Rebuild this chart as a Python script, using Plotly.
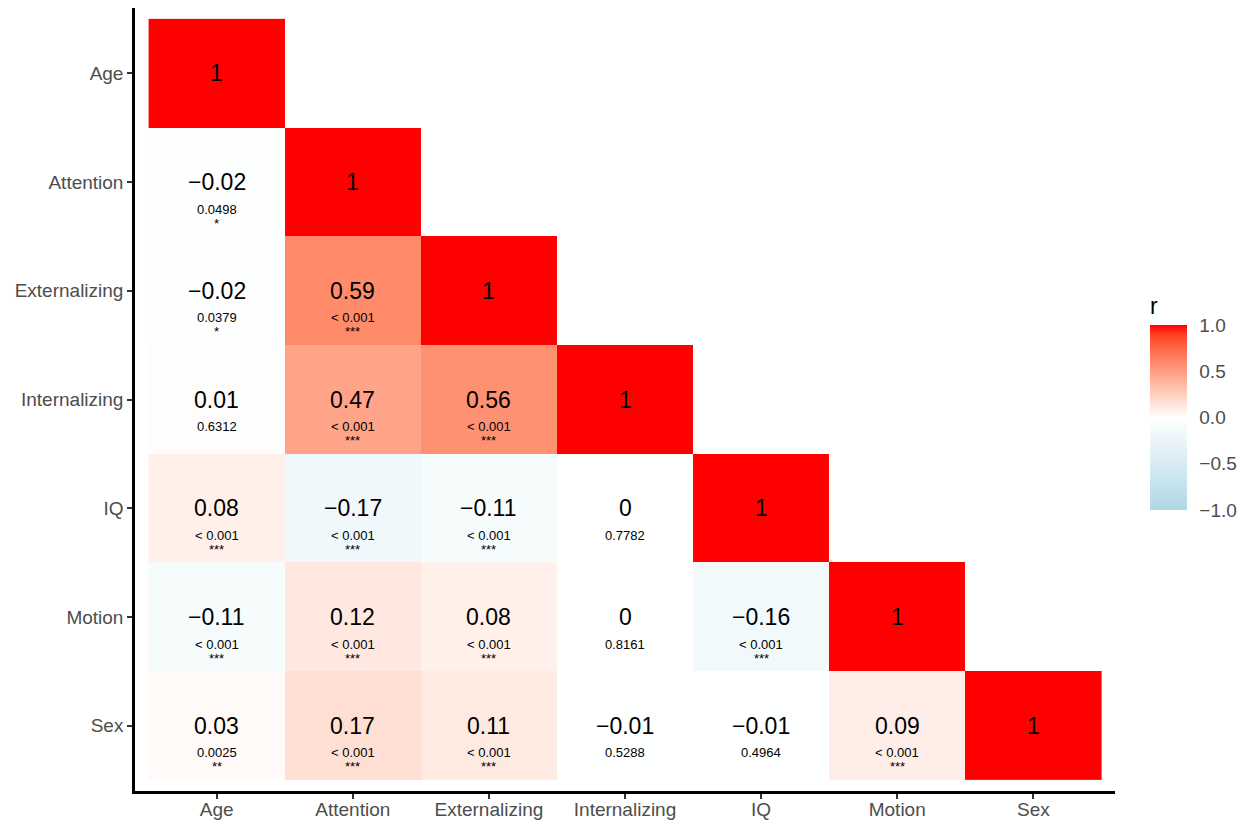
import plotly.graph_objects as go
import numpy as np

variables = ["Age", "Attention", "Externalizing", "Internalizing", "IQ", "Motion", "Sex"]

# lower-triangle correlations (row i, columns 0..i)
r_age = [1]
r_attention = [-0.02, 1]
r_externalizing = [-0.02, 0.59, 1]
r_internalizing = [0.01, 0.47, 0.56, 1]
r_iq = [0.08, -0.17, -0.11, 0, 1]
r_motion = [-0.11, 0.12, 0.08, 0, -0.16, 1]
r_sex = [0.03, 0.17, 0.11, -0.01, -0.01, 0.09, 1]

p_age = [""]
p_attention = ["0.0498", ""]
p_externalizing = ["0.0379", "< 0.001", ""]
p_internalizing = ["0.6312", "< 0.001", "< 0.001", ""]
p_iq = ["< 0.001", "< 0.001", "< 0.001", "0.7782", ""]
p_motion = ["< 0.001", "< 0.001", "< 0.001", "0.8161", "< 0.001", ""]
p_sex = ["0.0025", "< 0.001", "< 0.001", "0.5288", "0.4964", "< 0.001", ""]

s_age = [""]
s_attention = ["*", ""]
s_externalizing = ["*", "***", ""]
s_internalizing = ["", "***", "***", ""]
s_iq = ["***", "***", "***", "", ""]
s_motion = ["***", "***", "***", "", "***", ""]
s_sex = ["**", "***", "***", "", "", "***", ""]

cbar_vals = [-1, -0.5, 0, 0.5, 1]
cbar_text = ["\u22121.0", "\u22120.5", "0.0", "0.5", "1.0"]

R = [r_age, r_attention, r_externalizing, r_internalizing, r_iq, r_motion, r_sex]
P = [p_age, p_attention, p_externalizing, p_internalizing, p_iq, p_motion, p_sex]
S = [s_age, s_attention, s_externalizing, s_internalizing, s_iq, s_motion, s_sex]

n = len(variables)
z = [[(R[i][j] if j <= i else None) for j in range(n)] for i in range(n)]

# ---- Lab-space colour ramp (like ggplot2 scale_fill_gradient2) ----
def srgb_to_lin(c):
    c = c / 255.0
    return np.where(c <= 0.04045, c / 12.92, ((c + 0.055) / 1.055) ** 2.4)

def lin_to_srgb(c):
    c = np.clip(c, 0, 1)
    v = np.where(c <= 0.0031308, 12.92 * c, 1.055 * c ** (1 / 2.4) - 0.055)
    return np.clip(np.round(v * 255), 0, 255)

M = np.array([[0.4124, 0.3576, 0.1805], [0.2126, 0.7152, 0.0722], [0.0193, 0.1192, 0.9505]])
Minv = np.linalg.inv(M)
WP = np.array([0.95047, 1.0, 1.08883])

def f(t):
    d = 6 / 29
    return np.where(t > d ** 3, np.cbrt(t), t / (3 * d * d) + 4 / 29)

def finv(t):
    d = 6 / 29
    return np.where(t > d, t ** 3, 3 * d * d * (t - 4 / 29))

def rgb_to_lab(rgb):
    xyz = M @ srgb_to_lin(np.array(rgb, dtype=float)) / WP
    fx, fy, fz = f(xyz)
    return np.array([116 * fy - 16, 500 * (fx - fy), 200 * (fy - fz)])

def lab_to_rgb(lab):
    L, a, b = lab
    fy = (L + 16) / 116
    fx = fy + a / 500
    fz = fy - b / 200
    xyz = np.array([finv(fx), finv(fy), finv(fz)]) * WP
    return lin_to_srgb(Minv @ xyz)

low = rgb_to_lab((173, 216, 230))
mid = rgb_to_lab((255, 255, 255))
high = rgb_to_lab((255, 0, 0))
colorscale = []
steps = 20
for k in range(steps + 1):
    t = k / steps
    if t <= 0.5:
        u = t / 0.5
        lab = low + (mid - low) * u
    else:
        u = (t - 0.5) / 0.5
        lab = mid + (high - mid) * u
    rgb = lab_to_rgb(lab)
    colorscale.append([t, "rgb(%d,%d,%d)" % tuple(int(v) for v in rgb)])

fam = "Liberation Sans, Arial, sans-serif"

fig = go.Figure()
fig.add_trace(go.Heatmap(
    z=z,
    x=list(range(n)),
    y=list(range(n)),
    zmin=-1, zmax=1,
    colorscale=colorscale,
    hoverinfo="skip",
    xgap=0, ygap=0,
    colorbar=dict(
        title=dict(text="r", font=dict(size=23, color="#000000", family=fam), side="top"),
        tickvals=cbar_vals,
        ticktext=cbar_text,
        tickfont=dict(size=19, color="#4d4d4d", family=fam),
        ticks="outside", tickcolor="rgba(0,0,0,0)", ticklen=9, tickwidth=1,
        outlinewidth=0,
        thickness=37,
        lenmode="pixels", len=216,
        x=1.0306, xanchor="left", xpad=5,
        y=0.3589, yanchor="bottom", ypad=0,
    ),
))

def fmt(v):
    if v == 1:
        return "1"
    if v == 0:
        return "0"
    s = ("%.2f" % abs(v))
    return ("\u2212" + s) if v < 0 else s

ann = []
for i in range(n):
    for j in range(i + 1):
        ann.append(dict(x=j, y=i, text=fmt(R[i][j]), showarrow=False,
                        font=dict(size=23, color="#000000", family=fam), yshift=0))
        if P[i][j]:
            ann.append(dict(x=j, y=i, text=P[i][j], showarrow=False,
                            font=dict(size=13, color="#000000", family=fam), yshift=-27))
        if S[i][j]:
            ann.append(dict(x=j, y=i, text=S[i][j], showarrow=False,
                            font=dict(size=13, color="#000000", family=fam), yshift=-41))

fig.update_layout(
    width=1247, height=825,
    margin=dict(l=135, r=132, t=8, b=34, autoexpand=False),
    paper_bgcolor="white", plot_bgcolor="white",
    annotations=ann,
    xaxis=dict(
        tickvals=list(range(n)), ticktext=variables,
        range=[-0.6, n - 1 + 0.6],
        showgrid=False, zeroline=False, automargin=False,
        showline=True, linecolor="black", linewidth=2.5,
        ticks="outside", ticklen=5, tickwidth=2, tickcolor="#333333",
        ticklabelstandoff=-6,
        tickfont=dict(size=19, color="#4d4d4d", family=fam),
    ),
    yaxis=dict(
        tickvals=list(range(n)), ticktext=variables,
        range=[n - 1 + 0.6, -0.6],
        showgrid=False, zeroline=False, automargin=False,
        showline=True, linecolor="black", linewidth=2.5,
        ticks="outside", ticklen=5, tickwidth=2, tickcolor="#333333",
        tickfont=dict(size=19, color="#4d4d4d", family=fam),
    ),
)

fig.write_html("out.html")
